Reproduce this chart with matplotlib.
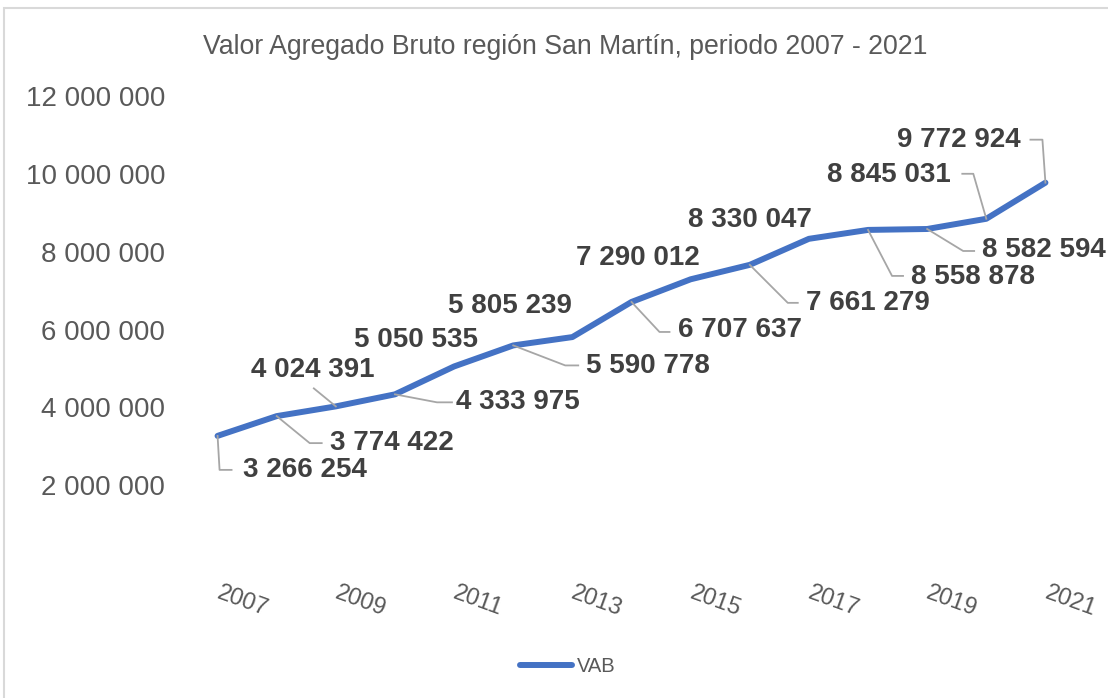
import matplotlib
matplotlib.use("Agg")
import matplotlib.pyplot as plt
from matplotlib.patches import Rectangle

plt.rcParams['font.family'] = ['Liberation Sans', 'DejaVu Sans']

# datos
years = [2007, 2008, 2009, 2010, 2011, 2012, 2013, 2014,
         2015, 2016, 2017, 2018, 2019, 2020, 2021]
vab = [3266254, 3774422, 4024391, 4333975, 5050535, 5590778, 5805239, 6707637,
       7290012, 7661279, 8330047, 8558878, 8582594, 8845031, 9772924]
year_ticks = [2007, 2009, 2011, 2013, 2015, 2017, 2019, 2021]
y_ticks = [2000000, 4000000, 6000000, 8000000, 10000000, 12000000]
title = 'Valor Agregado Bruto región San Martín, periodo 2007 - 2021'
series_name = 'VAB'

# posicion de etiquetas (pixeles respecto al punto, y hacia arriba)
label_off = [(87, -34), (115, -27), (-23, 36), (123, -8), (-38, 26), (135, -21),
             (-62, 31), (108, -28), (-53, 21), (118, -38), (-59, 19), (105, -47),
             (117, -21), (-97, 44), (-87, 43)]
# lineas guia: (codo, fin) en pixeles, None = sin linea
leaders = [((2, -34), (14, -34)), ((33, -27), (45, -27)), ((-22, 18), (-22, 18)),
           ((42, -8), (57, -8)), None, ((52, -20), (65, -20)), None,
           ((28, -30), (38, -30)), None, ((38, -38), (48, -38)), None,
           ((24, -46), (35, -46)), ((36, -22), (47, -22)), ((-13, 45), (-24, 45)),
           ((-3, 43), (-15, 43))]

W, H = 1108, 698
fig = plt.figure(figsize=(W / 100, H / 100), dpi=100)
fig.patch.set_facecolor('white')
fig.patches.append(Rectangle((4 / W, -0.1), 1.2, 1 - 8 / H + 0.1, transform=fig.transFigure,
                             fill=False, edgecolor='#D9D9D9', linewidth=1.5))

ax = fig.add_axes([188 / W, 1 - 563 / H, 887 / W, 467 / H])
ax.plot(years, vab, color='#4472C4', linewidth=4.3, solid_capstyle='round',
        solid_joinstyle='round', label=series_name, zorder=3)
ax.set_xlim(2006.5, 2021.5)
ax.set_ylim(0, 12000000)

ax.set_yticks(y_ticks)
ax.set_yticklabels([f'{v:,}'.replace(',', ' ') for v in y_ticks],
                   fontsize=20, color='#595959')
ax.set_xticks(year_ticks)
ax.set_xticklabels([str(y) for y in year_ticks], fontsize=17, color='#595959',
                   rotation=-20, ha='left', va='center', rotation_mode='anchor')
ax.tick_params(axis='y', length=0, pad=16.5)
ax.tick_params(axis='x', length=0, pad=21)
for s in ax.spines.values():
    s.set_visible(False)

fig.canvas.draw()
for i, (x, v) in enumerate(zip(years, vab)):
    px, py = ax.transData.transform((x, v))
    dx, dy = label_off[i]
    ax.annotate(f'{v:,}'.replace(',', ' '), xy=(x, v), xytext=(dx, dy),
                textcoords='offset pixels', ha='center', va='center',
                fontsize=20, fontweight='bold', color='#404040', zorder=4)
    if leaders[i] is not None:
        (ex, ey), (fx, fy) = leaders[i]
        fig.add_artist(plt.Line2D([px, px + ex, px + fx], [py, py + ey, py + fy],
                                  transform=None, color='#A6A6A6', linewidth=1.3,
                                  zorder=2))

fig.text(565 / W, 1 - 47 / H, title, ha='center', va='center', fontsize=19.2,
         color='#595959')

fig.legend(loc='center', bbox_to_anchor=(568 / W, 1 - 667 / H), frameon=False,
           fontsize=14.5, handlelength=2.6, handletextpad=0.25,
           labelcolor='#595959')

fig.savefig('out.png', dpi=100, facecolor='white')
